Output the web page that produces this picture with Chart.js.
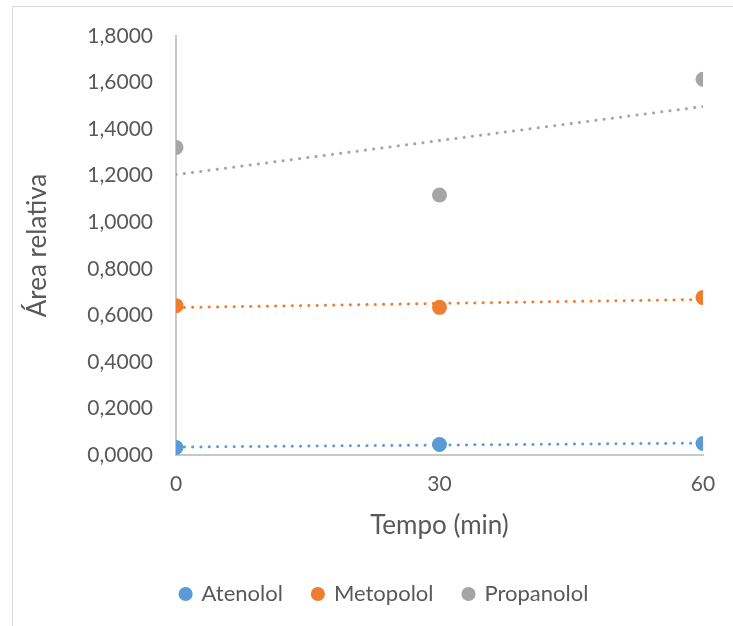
<!DOCTYPE html>
<html>
<head>
<meta charset="utf-8">
<script src="https://cdn.jsdelivr.net/npm/chart.js@4"></script>
<style>
  html, body { margin: 0; padding: 0; background: #fff; }
  #wrap { position: relative; width: 733px; height: 626px; }
</style>
</head>
<body>
<div id="wrap"><canvas id="grafico"></canvas></div>
<script>
// dados
const tempos = [0, 30, 60];
const atenolol = [0.0324, 0.0454, 0.0497];
const metopolol = [0.6417, 0.6344, 0.6763];
const propanolol = [1.3215, 1.1170, 1.6140];

const nomes = ["Atenolol", "Metopolol", "Propanolol"];
const cores = ["#5B9BD5", "#ED7D31", "#A5A5A5"];

const corTexto = "#595959";
const fonte = "Lato";

// pontos x/y para o scatter
function pontos(valores) {
  return tempos.map((t, i) => ({ x: t, y: valores[i] }));
}

// linha de tendência linear (como no Excel)
function tendencia(valores) {
  const n = tempos.length;
  const mx = tempos.reduce((a, b) => a + b, 0) / n;
  const my = valores.reduce((a, b) => a + b, 0) / n;
  let num = 0, den = 0;
  tempos.forEach((t, i) => {
    num += (t - mx) * (valores[i] - my);
    den += (t - mx) * (t - mx);
  });
  const b = num / den;
  const a = my - b * mx;
  const xi = tempos[0], xf = tempos[tempos.length - 1];
  return [{ x: xi, y: a + b * xi }, { x: xf, y: a + b * xf }];
}

const series = [atenolol, metopolol, propanolol];

const datasets = [];
series.forEach((valores, i) => {
  datasets.push({
    label: nomes[i],
    data: pontos(valores),
    backgroundColor: cores[i],
    borderColor: cores[i],
    pointRadius: 7.5,
    pointHoverRadius: 7.5,
    pointBorderWidth: 0,
    showLine: false,
    order: 0,
  });
});
series.forEach((valores, i) => {
  datasets.push({
    label: "trend",
    type: "line",
    data: tendencia(valores),
    borderColor: cores[i],
    borderWidth: 3,
    borderDash: [0.1, 8.2],
    borderCapStyle: "round",
    pointRadius: 0,
    fill: false,
    order: 1,
  });
});

// borda da área do gráfico
const bordaPlugin = {
  id: "borda",
  beforeDraw(chart) {
    const ctx = chart.ctx;
    ctx.save();
    ctx.strokeStyle = "#D9D9D9";
    ctx.lineWidth = 1;
    ctx.beginPath();
    ctx.moveTo(12.5, 700);
    ctx.lineTo(12.5, 6.5);
    ctx.lineTo(800, 6.5);
    ctx.stroke();
    ctx.restore();
  },
  // legenda um pouco deslocada para a direita, como no original
  afterLayout(chart) {
    const lg = chart.legend;
    if (!lg) return;
    lg.left += 27;
    lg.right += 27;
    lg.top -= 2;
    lg.bottom -= 2;
    lg.adjustHitBoxes();
  },
};

const ctx = document.getElementById("grafico").getContext("2d");
const myChart = new Chart(ctx, {
  type: "scatter",
  data: { datasets: datasets },
  plugins: [bordaPlugin],
  options: {
    responsive: true,
    maintainAspectRatio: false,
    animation: false,
    layout: { padding: { left: 12, right: 30, top: 36, bottom: 9 } },
    plugins: {
      tooltip: { enabled: false },
      legend: {
        position: "bottom",
        labels: {
          usePointStyle: true,
          pointStyle: "circle",
          boxWidth: 10,
          boxHeight: 10,
          padding: 30,
          color: corTexto,
          font: { family: fonte, size: 22 },
          filter: (item) => item.text !== "trend",
        },
      },
    },
    scales: {
      x: {
        type: "linear",
        min: 0,
        max: 60,
        afterFit: (scale) => { scale.height = 100; },
        ticks: {
          stepSize: 30,
          padding: 17,
          color: corTexto,
          font: { family: fonte, size: 21 },
        },
        grid: { display: false, drawTicks: false },
        border: { display: true, color: "#C8C8C8", width: 2 },
        title: {
          display: true,
          text: "Tempo (min)",
          color: corTexto,
          font: { family: fonte, size: 26 },
          padding: { top: 4, bottom: 14 },
        },
      },
      y: {
        min: 0,
        max: 1.8,
        afterFit: (scale) => { scale.width = 164; },
        ticks: {
          stepSize: 0.2,
          padding: 23,
          color: corTexto,
          font: { family: fonte, size: 21 },
          callback: (v) => Number(v).toFixed(4).replace(".", ","),
        },
        grid: { display: false, drawTicks: false },
        border: { display: true, color: "#C8C8C8", width: 2 },
        title: {
          display: true,
          text: "Área relativa",
          color: corTexto,
          font: { family: fonte, size: 26 },
          padding: { top: 10, bottom: 10 },
        },
      },
    },
  },
});
</script>
</body>
</html>
